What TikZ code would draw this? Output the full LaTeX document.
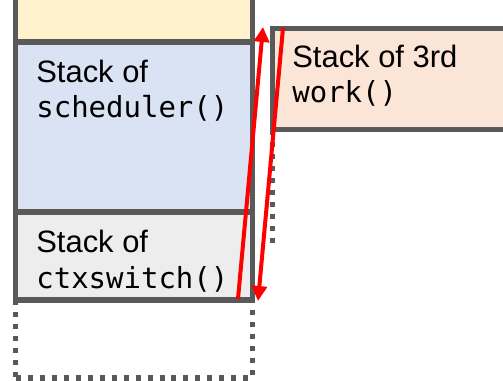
\documentclass[tikz,border=0pt]{standalone}
\usepackage{fontspec}
\setmainfont{Liberation Sans}
\newfontfamily\codefont{DejaVu Sans Mono}
\usetikzlibrary{arrows.meta}
\definecolor{framegray}{HTML}{595959}
\definecolor{oldyellow}{HTML}{FFF2CC}
\definecolor{schedblue}{HTML}{DAE3F3}
\definecolor{switchgray}{HTML}{EDEDED}
\definecolor{workpeach}{HTML}{FBE5D6}
\begin{document}
\begin{tikzpicture}[x=0.02cm,y=-0.02cm,
    frame/.style={draw=framegray,line width=0.11cm,rectangle,inner sep=0pt,outer sep=0pt},
    spare/.style={frame,dash pattern=on 0.1cm off 0.14cm},
    txt/.style={anchor=base west,inner sep=0pt,font=\fontsize{17.6pt}{20pt}\selectfont},
    code/.style={anchor=base west,inner sep=0pt,font=\codefont\fontsize{16.5pt}{20pt}\selectfont},
    jump/.style={red,line width=0.08cm,-{Triangle[length=0.3cm,width=0.3cm]}}]
    \useasboundingbox (0,0) rectangle (503,381);
    \clip (0,0) rectangle (503,381);
    % empty frames under the stacks
    \node (free) [spare,minimum width=4.74cm,minimum height=1.56cm] at (134,339) {};
    \draw [spare] (272.5,130) -- (272.5,245);
    % stack frames
    \node (old) [frame,fill=oldyellow,minimum width=4.74cm,minimum height=1.04cm] at (134,16) {};
    \node (sched) [frame,fill=schedblue,minimum width=4.74cm,minimum height=3.4cm] at (134,127) {};
    \node (switch) [frame,fill=switchgray,minimum width=4.74cm,minimum height=1.76cm] at (134,256) {};
    \node (work) [frame,fill=workpeach,minimum width=4.95cm,minimum height=2.03cm] at (396,79) {};
    % labels
    \node (schedA) [txt] at (36,83) {Stack of};
    \node (schedB) [code] at (36,118) {scheduler()};
    \node (switchA) [txt] at (36,253) {Stack of};
    \node (switchB) [code] at (36,288) {ctxswitch()};
    \node (workA) [txt] at (292,68) {Stack of 3rd};
    \node (workB) [code] at (292,103) {work()};
    % context switches
    \coordinate (outfrom) at (238,299);
    \coordinate (outto) at (263,27);
    \coordinate (infrom) at (283,28);
    \coordinate (into) at (258,301);
    \draw [jump] (outfrom) -- (outto);
    \draw [jump] (infrom) -- (into);
\end{tikzpicture}
\end{document}
